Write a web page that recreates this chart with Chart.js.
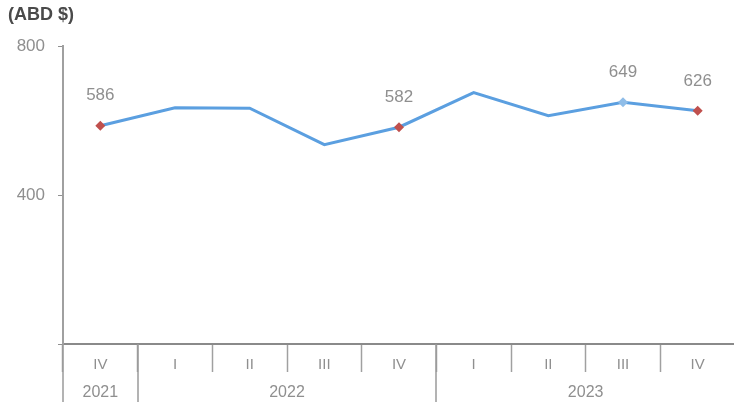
<!DOCTYPE html>
<html>
<head>
<meta charset="utf-8">
<script src="https://cdn.jsdelivr.net/npm/chart.js@4"></script>
<style>
    html, body { margin: 0; padding: 0; background: #fff; overflow: hidden; }
    #wrap { width: 740px; height: 409px; }
</style>
</head>
<body>
<div id="wrap"><canvas id="quarterChart"></canvas></div>
<script>
const quarters = ['IV', 'I', 'II', 'III', 'IV', 'I', 'II', 'III', 'IV'];
const years = ['2021', '2022', '2022', '2022', '2022', '2023', '2023', '2023', '2023'];
const values = [586, 634, 633, 535, 582, 675, 613, 649, 626];
const labelled = [0, 4, 7, 8];
const redPoints = [0, 4, 8];
const yTicks = [0, 400, 800];

const textGray = '#8f8f8f';
const lineBlue = '#5b9fe0';
const markRed = '#c0504d';

// year row, long separators between years, value labels and unit title
const extrasPlugin = {
    id: 'extras',
    afterDraw(chart) {
        const ctx = chart.ctx;
        const x = chart.scales.x;
        const area = chart.chartArea;
        const half = (x.getPixelForValue(1) - x.getPixelForValue(0)) / 2;

        ctx.save();
        // separators at the start of each year group and at the end
        ctx.strokeStyle = '#9a9a9a';
        ctx.lineWidth = 1.5;
        years.forEach(function (yr, i) {
            if (i === 0 || yr !== years[i - 1]) {
                const px = Math.round(x.getPixelForValue(i) - half);
                ctx.beginPath();
                ctx.moveTo(px, area.bottom);
                ctx.lineTo(px, area.bottom + 58);
                ctx.stroke();
            }
        });
        const endX = x.getPixelForValue(years.length - 1) + half;
        ctx.beginPath();
        ctx.moveTo(endX, area.bottom);
        ctx.lineTo(endX, area.bottom + 58);
        ctx.stroke();

        // year labels centred on their groups
        ctx.fillStyle = textGray;
        ctx.font = '16px "Liberation Sans", Arial, sans-serif';
        ctx.textAlign = 'center';
        ctx.textBaseline = 'middle';
        let start = 0;
        for (let i = 1; i <= years.length; i++) {
            if (i === years.length || years[i] !== years[start]) {
                const cx = (x.getPixelForValue(start) + x.getPixelForValue(i - 1)) / 2;
                ctx.fillText(years[start], cx, area.bottom + 49);
                start = i;
            }
        }

        // value labels
        const meta = chart.getDatasetMeta(0);
        ctx.font = '17px "Liberation Sans", Arial, sans-serif';
        labelled.forEach(function (i) {
            const pt = meta.data[i];
            ctx.fillText(String(values[i]), pt.x, pt.y - 30);
        });

        // unit title
        ctx.fillStyle = '#4a4a4a';
        ctx.font = 'bold 18px "Liberation Sans", Arial, sans-serif';
        ctx.textAlign = 'left';
        ctx.fillText('(ABD $)', 8, 15);
        ctx.restore();
    }
};

const canvas = document.getElementById('quarterChart');
const pointColors = values.map((v, i) => redPoints.includes(i) ? markRed : '#8fbde8');
const pointRadii = values.map((v, i) => labelled.includes(i) ? 5 : 0);

new Chart(canvas, {
    type: 'line',
    data: {
        labels: quarters,
        datasets: [{
            data: values,
            borderColor: lineBlue,
            borderWidth: 3,
            tension: 0,
            pointStyle: 'rectRot',
            pointRadius: pointRadii,
            pointBackgroundColor: pointColors,
            pointBorderColor: pointColors,
            pointBorderWidth: 0
        }]
    },
    options: {
        responsive: true,
        maintainAspectRatio: false,
        animation: false,
        layout: { padding: { top: 46, left: 0, right: 0, bottom: 0 } },
        plugins: {
            legend: { display: false },
            tooltip: { enabled: false }
        },
        scales: {
            x: {
                offset: true,
                afterFit: function (s) { s.height = 65; },
                grid: {
                    offset: true,
                    drawOnChartArea: false,
                    tickLength: 28,
                    tickWidth: 1.5,
                    tickColor: '#a0a0a0'
                },
                border: { color: '#8a8a8a', width: 2 },
                ticks: {
                    color: textGray,
                    padding: -16,
                    maxRotation: 0,
                    autoSkip: false,
                    font: { family: '"Liberation Sans", Arial, sans-serif', size: 15 }
                }
            },
            y: {
                min: 0,
                max: 800,
                afterFit: function (s) { s.width = 63; },
                afterBuildTicks: function (s) { s.ticks = yTicks.map(v => ({ value: v })); },
                grid: {
                    drawOnChartArea: false,
                    tickLength: 5,
                    tickColor: '#909090'
                },
                border: { color: '#a0a0a0', width: 2 },
                ticks: {
                    color: textGray,
                    padding: 13,
                    callback: v => v === 0 ? '' : v,
                    font: { family: '"Liberation Sans", Arial, sans-serif', size: 17 }
                }
            }
        }
    },
    plugins: [extrasPlugin]
});
</script>
</body>
</html>
